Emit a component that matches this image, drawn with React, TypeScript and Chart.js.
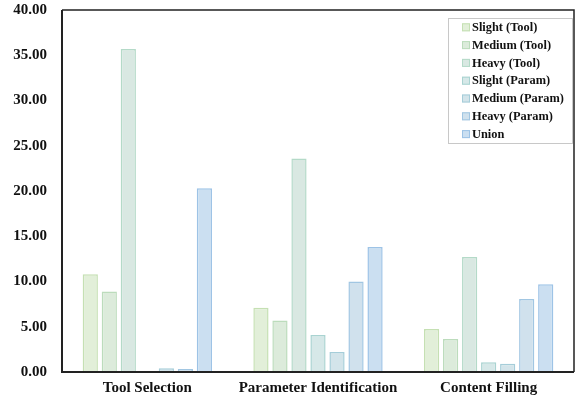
import React, { useEffect, useRef } from "react";
import { Chart, registerables } from "chart.js";

Chart.register(...registerables);

const categories = ["Tool Selection", "Parameter Identification", "Content Filling"];
const seriesLabels = ["Slight (Tool)", "Medium (Tool)", "Heavy (Tool)", "Slight (Param)", "Medium (Param)", "Heavy (Param)", "Union"];
const slightTool = [10.8, 7.1, 4.75];
const mediumTool = [8.9, 5.7, 3.65];
const heavyTool = [35.7, 23.6, 12.7];
const slightParam = [0, 4.1, 1.07];
const mediumParam = [0.42, 2.2, 0.92];
const heavyParam = [0.32, 10.0, 8.07];
const union = [20.3, 13.8, 9.7];
const fills = ["#e2efd9", "#dcebdb", "#d9e8e2", "#d6e8e8", "#d3e4ea", "#d0e1ed", "#cbdff1"];
const borders = ["#c5e0b3", "#bcdcbc", "#b4dac8", "#a9d3d1", "#a5cdd9", "#a1c6e2", "#9dc3e6"];
const yTicks = [0, 5, 10, 15, 20, 25, 30, 35, 40];

const FONT = "'Liberation Serif', 'Times New Roman', serif";

const framePlugin = {
  id: "frameAndLegend",
  afterDraw(chart: any) {
    const { ctx, chartArea } = chart;
    const { left, right, top, bottom } = chartArea;
    ctx.save();
    ctx.strokeStyle = "#222";
    ctx.lineWidth = 1.5;
    ctx.beginPath();
    ctx.moveTo(left, top);
    ctx.lineTo(right, top);
    ctx.lineTo(right, bottom);
    ctx.stroke();
    ctx.lineWidth = 2;
    ctx.beginPath();
    ctx.moveTo(left, top);
    ctx.lineTo(left, bottom);
    ctx.lineTo(right, bottom);
    ctx.stroke();

    // legend box
    const bx = 448, by = 18, bw = 124, bh = 125;
    ctx.fillStyle = "#fff";
    ctx.fillRect(bx, by, bw, bh);
    ctx.strokeStyle = "#c8c8c8";
    ctx.lineWidth = 1;
    ctx.strokeRect(bx + 0.5, by + 0.5, bw, bh);
    ctx.font = `bold 12.4px ${FONT}`;
    ctx.textBaseline = "middle";
    chart.data.datasets.forEach((ds: any, i: number) => {
      const y = 27.3 + i * 17.8;
      ctx.fillStyle = ds.backgroundColor;
      ctx.fillRect(462, y - 4, 8, 8);
      ctx.strokeStyle = ds.borderColor;
      ctx.lineWidth = 1;
      ctx.strokeRect(462.5, y - 3.5, 7, 7);
      ctx.fillStyle = "#111";
      ctx.fillText(ds.label, 472, y + 0.5);
    });
    ctx.restore();
  },
};

export default function App() {
  const ref = useRef<HTMLCanvasElement>(null);
  useEffect(() => {
    const series = [slightTool, mediumTool, heavyTool, slightParam, mediumParam, heavyParam, union];
    const chart = new Chart(ref.current!, {
      type: "bar",
      data: {
        labels: categories,
        datasets: series.map((d, i) => ({
          label: seriesLabels[i],
          data: d,
          backgroundColor: fills[i],
          borderColor: borders[i],
          borderWidth: 1.5,
          categoryPercentage: 0.78,
          barPercentage: 0.8,
        })),
      },
      options: {
        animation: false,
        responsive: false,
        maintainAspectRatio: false,
        layout: { padding: { top: 10, right: 3, left: 0, bottom: 0 } },
        plugins: { legend: { display: false }, tooltip: { enabled: false } },
        scales: {
          x: {
            grid: { display: false, drawTicks: false },
            border: { display: false },
            ticks: { color: "#111", font: { family: FONT, size: 15, weight: "bold" }, padding: 7 },
            afterFit(scale: any) { scale.height = 29; scale.paddingLeft = 0; scale.paddingRight = 0; },
          },
          y: {
            min: 0,
            max: 40,
            grid: { display: false, drawTicks: false },
            border: { display: false },
            afterBuildTicks(scale: any) { scale.ticks = yTicks.map((v) => ({ value: v })); },
            ticks: {
              color: "#111",
              font: { family: FONT, size: 15, weight: "bold" },
              padding: 15,
              callback: (v: any) => Number(v).toFixed(2),
            },
            afterFit(scale: any) { scale.width = 62; scale.paddingTop = 0; scale.paddingBottom = 0; },
          },
        },
      },
      plugins: [framePlugin],
    });
    return () => chart.destroy();
  }, []);
  return (
    <div style={{ position: "fixed", left: 0, top: 0, width: 577, height: 401, background: "#fff" }}>
      <canvas ref={ref} width={577} height={401} style={{ width: 577, height: 401 }} />
    </div>
  );
}
